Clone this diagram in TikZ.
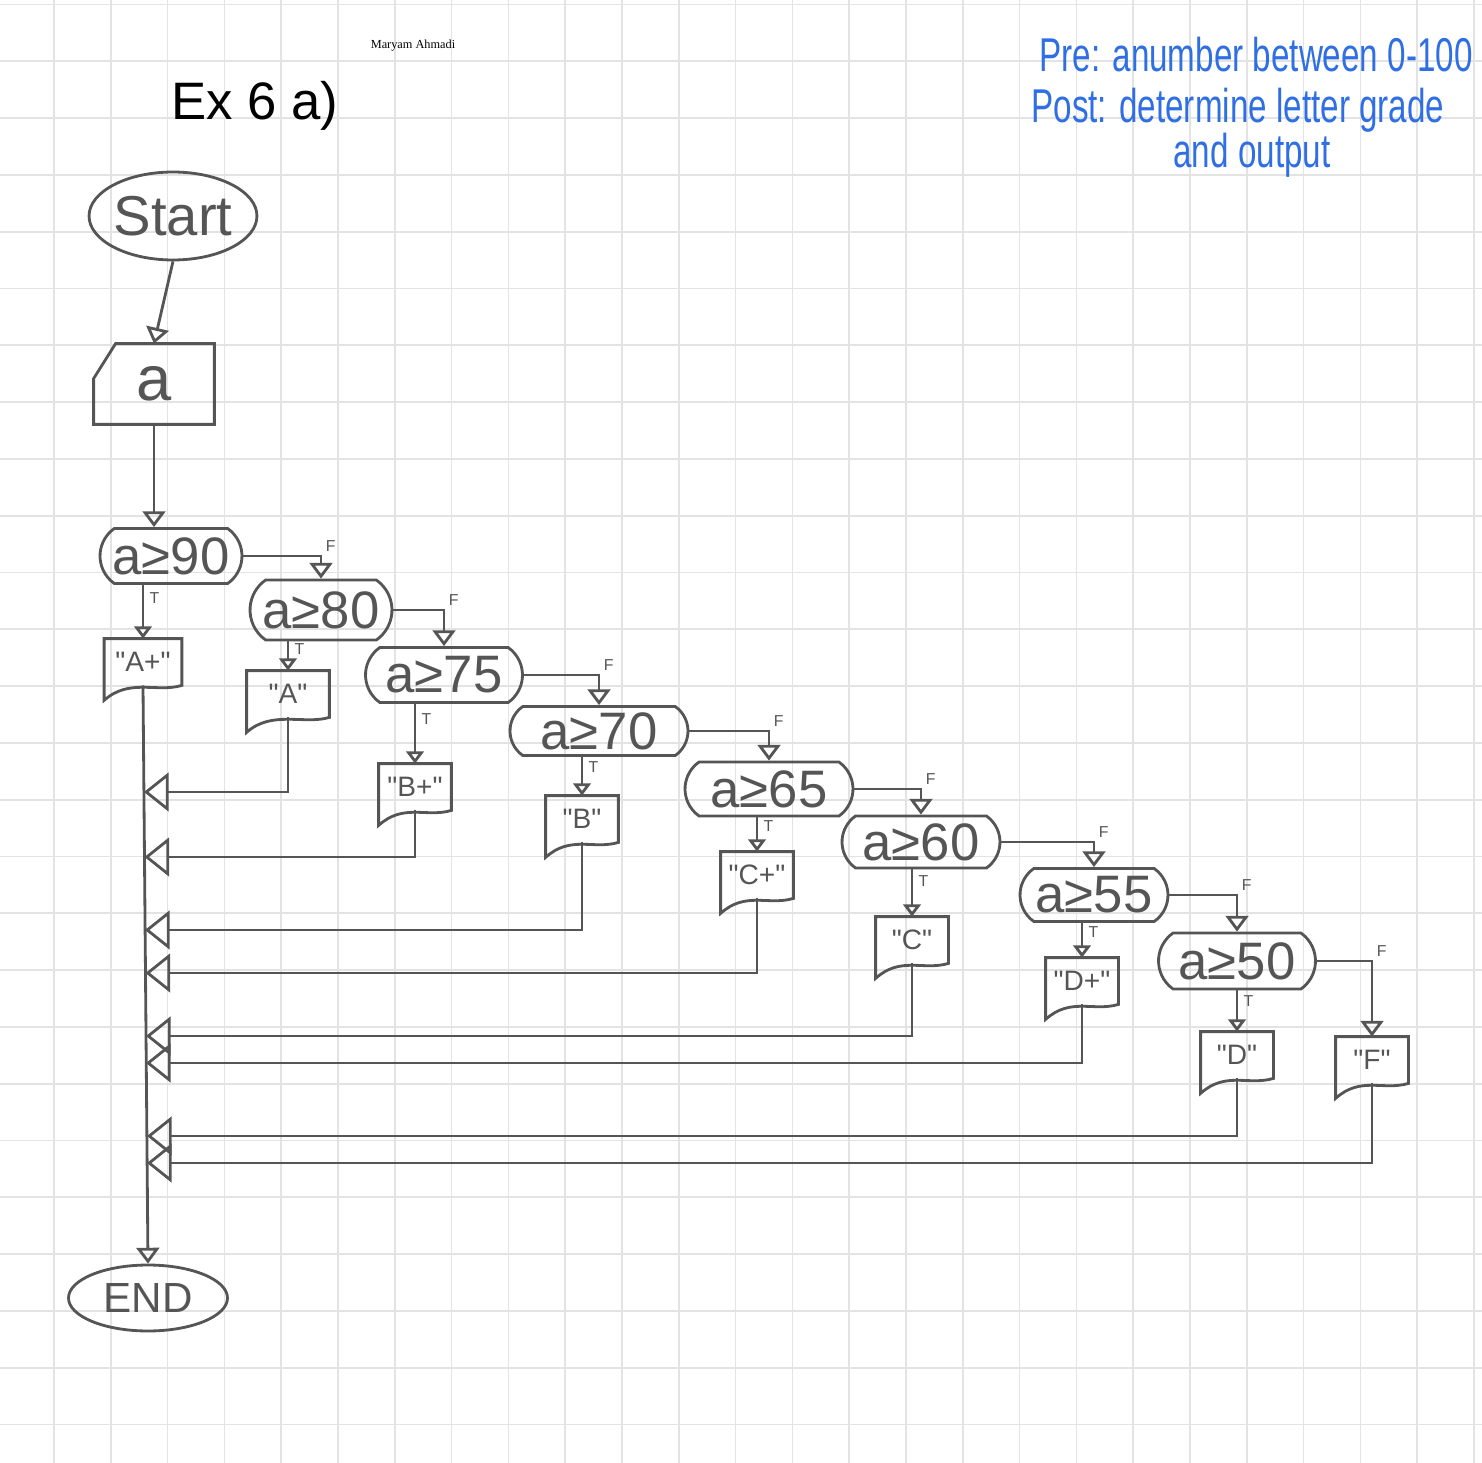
\documentclass[tikz,border=0pt]{standalone}
\usepackage{fontspec}
\setmainfont{Liberation Sans}
\newfontfamily\handfont[FakeStretch=0.7]{Liberation Sans}
\newfontfamily\namefont{Liberation Serif}
\newfontfamily\quotefont[Ligatures=TeXOff]{Liberation Sans}
\usepackage{tikz}
\usetikzlibrary{shapes}
\usetikzlibrary{shapes.misc}
\usetikzlibrary{arrows.meta}
\definecolor{pen}{HTML}{555555}
\definecolor{ink}{HTML}{2F6FE3}
\definecolor{paper}{HTML}{E3E3E3}
\tikzstyle{gridline}=[draw=paper,line width=1pt]
\tikzstyle{term}=[ellipse,draw=pen,inner sep=0mm]
\tikzstyle{cond}=[rounded rectangle,rounded rectangle arc length=110,draw=pen,inner sep=0mm,font=\fontsize{30}{30}\selectfont]
\tikzstyle{inbox}=[rectangle,inner sep=0mm,minimum width=2.36cm,minimum height=1.56cm,font=\fontsize{36}{36}\selectfont]
\tikzstyle{outtext}=[rectangle,inner sep=0mm,minimum width=1.4cm,minimum height=0.88cm,font=\quotefont\fontsize{16}{16}\selectfont]
\tikzstyle{note}=[text=ink,inner sep=0mm,font=\handfont\fontsize{27}{27}\selectfont]
\tikzstyle{tlbl}=[anchor=west,inner sep=3pt,font=\fontsize{9}{9}\selectfont]
\tikzstyle{flbl}=[anchor=south west,inner sep=2pt,font=\fontsize{9}{9}\selectfont]
\tikzstyle{arrow}=[->,>={Triangle[open,length=9pt,width=13pt]}]
\tikzstyle{tarrow}=[->,>={Triangle[open,length=7pt,width=10pt]}]
\tikzstyle{back}=[->,>={Triangle[open,length=14pt,width=22pt]}]
\tikzset{every picture/.style={
    line width=1.6pt,
    color=pen
  }
}
% output box with a wavy bottom
\newcommand\outbox[4][]{%
  \node[outtext,#1] at (#3) (#2) {#4};
  \draw (#2.north west) -- (#2.north east) -- (#2.south east)
    .. controls +(-0.5cm,-0.15cm) and +(0.5cm,0.45cm) .. ([yshift=-0.3cm]#2.south west) -- cycle;}
\begin{document}
\begin{tikzpicture}[x=0.02cm,y=-0.02cm]
        \useasboundingbox (0,0) rectangle (1482,1463);
        % grid paper
        \foreach \i in {0,...,25} {
          \draw[gridline] ({54+56.8*\i},0) -- ({54+56.8*\i},1463);
          \draw[gridline] (0,{4.5+56.8*\i}) -- (1482,{4.5+56.8*\i});
        }
        \node[text=black,font=\namefont\fontsize{7}{7}\selectfont] at (413,46) (name) {Maryam Ahmadi};
        \node[text=black,font=\fontsize{30}{30}\selectfont] at (255,106) (title) {Ex 6 a)};
        \node[note,anchor=west] at (1038,55) (pre) {Pre: anumber between 0-100};
        \node[note,anchor=west] at (1030,110) (post) {Post: determine letter grade};
        \node[note] at (1252,155) (post2) {and output};

        \node[term,minimum width=3.06cm,minimum height=1.76cm,font=\fontsize{32}{32}\selectfont] at (173,216) (start) {Start};
        \node[inbox] at (154,384) (inp) {a};
        \draw ([yshift=-0.7cm]inp.north west) -- ([xshift=0.44cm]inp.north west) -- (inp.north east) -- (inp.south east) -- (inp.south west) -- cycle;

        \node[cond,minimum width=2.84cm,minimum height=1.1cm] at (171,556) (d90) {a≥90};
        \node[cond,minimum width=2.84cm,minimum height=1.2cm] at (321,610) (d80) {a≥80};
        \node[cond,minimum width=3.14cm,minimum height=1.1cm] at (444,675) (d75) {a≥75};
        \node[cond,minimum width=3.56cm,minimum height=0.98cm] at (599,731) (d70) {a≥70};
        \node[cond,minimum width=3.36cm,minimum height=1.08cm] at (769,789) (d65) {a≥65};
        \node[cond,minimum width=3.16cm,minimum height=1.04cm] at (921,842) (d60) {a≥60};
        \node[cond,minimum width=2.96cm,minimum height=1.06cm] at (1094,895) (d55) {a≥55};
        \node[cond,minimum width=3.14cm,minimum height=1.12cm] at (1237,961) (d50) {a≥50};

        \outbox[minimum width=1.5cm]{Aplus}{143,662}{"A+"}
        \outbox[minimum width=1.6cm]{A}{288,694}{"A"}
        \outbox{Bplus}{415,787}{"B+"}
        \outbox{B}{582,819}{"B"}
        \outbox{Cplus}{757,875}{"C+"}
        \outbox{C}{912,940}{"C"}
        \outbox{Dplus}{1082,981}{"D+"}
        \outbox{D}{1237,1055}{"D"}
        \outbox{Fout}{1372,1060}{"F"}

        \node[term,minimum width=3.18cm,minimum height=1.32cm,font=\fontsize{24}{24}\selectfont] at (148,1298) (stop) {END};

        \draw[arrow] (start.south) -- (inp.north);
        \draw[arrow] (inp.south) -- (inp.south |- d90.north);

        % false branches
        \draw[arrow] (d90.east) -| node[flbl,pos=0.5] (f90) {F} (d80.north);
        \draw[arrow] (d80.east) -| node[flbl,pos=0.5] (f80) {F} (d75.north);
        \draw[arrow] (d75.east) -| node[flbl,pos=0.5] (f75) {F} (d70.north);
        \draw[arrow] (d70.east) -| node[flbl,pos=0.5] (f70) {F} (d65.north);
        \draw[arrow] (d65.east) -| node[flbl,pos=0.5] (f65) {F} (d60.north);
        \draw[arrow] (d60.east) -| node[flbl,pos=0.5] (f60) {F} (d55.north);
        \draw[arrow] (d55.east) -| node[flbl,pos=0.5] (f55) {F} (d50.north);
        \draw[arrow] (d50.east) -| node[flbl,pos=0.5] (f50) {F} (Fout.north);

        % true branches
        \draw[tarrow] (Aplus.north |- d90.south) -- node[tlbl,pos=0.25] (t90) {T} (Aplus.north);
        \draw[tarrow] (A.north |- d80.south) -- node[tlbl,pos=0.25] (t80) {T} (A.north);
        \draw[tarrow] (Bplus.north |- d75.south) -- node[tlbl,pos=0.25] (t75) {T} (Bplus.north);
        \draw[tarrow] (B.north |- d70.south) -- node[tlbl,pos=0.25] (t70) {T} (B.north);
        \draw[tarrow] (Cplus.north |- d65.south) -- node[tlbl,pos=0.25] (t65) {T} (Cplus.north);
        \draw[tarrow] (C.north |- d60.south) -- node[tlbl,pos=0.25] (t60) {T} (C.north);
        \draw[tarrow] (Dplus.north |- d55.south) -- node[tlbl,pos=0.25] (t55) {T} (Dplus.north);
        \draw[tarrow] (D.north |- d50.south) -- node[tlbl,pos=0.25] (t50) {T} (D.north);

        % back to the main line
        \draw[arrow] (Aplus.south) -- (stop.north);
        \coordinate (j1) at (144,792);
        \coordinate (j2) at (144.5,857);
        \coordinate (j3) at (145,930);
        \coordinate (j4) at (145.5,973);
        \coordinate (j5) at (146,1036);
        \coordinate (j6) at (146,1063);
        \coordinate (j7) at (147,1136);
        \coordinate (j8) at (147,1163);
        \draw[back] (A.south) |- (j1);
        \draw[back] (Bplus.south) |- (j2);
        \draw[back] (B.south) |- (j3);
        \draw[back] (Cplus.south) |- (j4);
        \draw[back] (C.south) |- (j5);
        \draw[back] (Dplus.south) |- (j6);
        \draw[back] (D.south) |- (j7);
        \draw[back] (Fout.south) |- (j8);
\end{tikzpicture}
\end{document}
